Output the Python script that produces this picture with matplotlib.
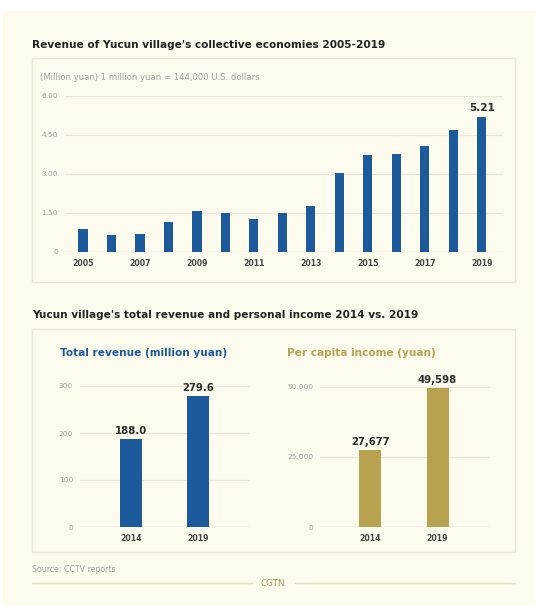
import matplotlib
matplotlib.use("Agg")
import matplotlib.pyplot as plt
from matplotlib.patches import Rectangle
import numpy as np

# data
years = [2005, 2006, 2007, 2008, 2009, 2010, 2011, 2012, 2013, 2014, 2015, 2016, 2017, 2018, 2019]
revenue = [0.90, 0.65, 0.71, 1.15, 1.58, 1.50, 1.28, 1.50, 1.78, 3.03, 3.73, 3.78, 4.09, 4.71, 5.21]
cmp_years = ["2014", "2019"]
total_revenue = [188.0, 279.6]
per_capita = [27677, 49598]

W, H = 535, 606
BLUE = "#1d5a9b"
GOLD = "#b9a24f"
CREAM = "#fdfaee"
EDGE = "#ede8d6"
GRID = "#ebe6d6"
TICK = "#a0a0a0"
DARK = "#2b2b2b"
FONT = "DejaVu Sans"


def rect(x0, y0, x1, y1):
    # pixel box (top-left origin) -> figure fraction
    return [x0 / W, 1 - y1 / H, (x1 - x0) / W, (y1 - y0) / H]


def style(ax, yticks, ylabels):
    ax.set_facecolor("none")
    for s in ax.spines.values():
        s.set_visible(False)
    ax.set_yticks(yticks)
    ax.set_yticklabels(ylabels, fontsize=5.4, color=TICK, family=FONT)
    ax.grid(axis="y", color=GRID, lw=0.8, zorder=0)
    ax.tick_params(length=0, pad=5)
    ax.axhline(0, color="#dcd6c2", lw=0.9, zorder=1)


fig = plt.figure(figsize=(W / 100, H / 100), dpi=100, facecolor="white")
bg = fig.add_axes([0, 0, 1, 1])
bg.set_xlim(0, W); bg.set_ylim(H, 0); bg.axis("off")
bg.add_patch(Rectangle((3, 11), W - 3, H - 11, color=CREAM, zorder=0))
bg.add_patch(Rectangle((32, 58), 483, 224, fc="none", ec=EDGE, lw=1.0))
bg.add_patch(Rectangle((32, 329), 483, 223, fc="none", ec=EDGE, lw=1.0))

bg.text(32, 45, "Revenue of Yucun village's collective economies 2005-2019",
        fontsize=7.6, weight="bold", color="#222222", va="center", family=FONT)
bg.text(40, 78, "(Million yuan) 1 million yuan = 144,000 U.S. dollars",
        fontsize=6.1, color=TICK, va="center", family=FONT)
bg.text(32, 315, "Yucun village's total revenue and personal income 2014 vs. 2019",
        fontsize=7.6, weight="bold", color="#222222", va="center", family=FONT)
bg.text(60, 353, "Total revenue (million yuan)", fontsize=7.6, weight="bold",
        color=BLUE, va="center", family=FONT)
bg.text(287, 353, "Per capita income (yuan)", fontsize=7.6, weight="bold",
        color=GOLD, va="center", family=FONT)
bg.text(32, 569, "Source: CCTV reports", fontsize=5.7, color=TICK, va="center", family=FONT)
bg.plot([32, 252], [583, 583], color="#e6e0c8", lw=1.0)
bg.plot([295, 515], [583, 583], color="#e6e0c8", lw=1.0)
bg.text(273, 583, "CGTN", fontsize=6.3, color="#a39a5a", ha="center", va="center", family=FONT)

# top chart
ax1 = fig.add_axes(rect(65, 96, 503, 252))
x = np.arange(len(years))
ax1.bar(x, revenue, width=0.32, color=BLUE, zorder=2)
ax1.set_xlim(-0.63, 14.74)
ax1.set_ylim(0, 6)
style(ax1, [0, 1.5, 3, 4.5, 6], ["0", "1.50", "3.00", "4.50", "6.00"])
ax1.set_xticks(x[::2])
ax1.set_xticklabels([str(y) for y in years[::2]], fontsize=5.6, color="#444444",
                    weight="bold", family=FONT)
ax1.text(x[-1], revenue[-1] + 0.15, f"{revenue[-1]:.2f}", ha="center", va="bottom",
         fontsize=7.5, weight="bold", color=DARK, family=FONT)

# bottom charts
xb = np.arange(len(cmp_years))
ax2 = fig.add_axes(rect(80, 386, 250, 527))
ax2.bar(xb, total_revenue, width=0.33, color=BLUE, zorder=2)
ax2.set_xlim(-0.76, 1.78)
ax2.set_ylim(0, 300)
style(ax2, [0, 100, 200, 300], ["0", "100", "200", "300"])
ax2.set_xticks(xb)
ax2.set_xticklabels(cmp_years, fontsize=5.6, color="#444444", weight="bold", family=FONT)
for xi, v in zip(xb, total_revenue):
    ax2.text(xi, v + 6, f"{v:.1f}", ha="center", va="bottom", fontsize=7.3,
             weight="bold", color=DARK, family=FONT)

ax3 = fig.add_axes(rect(320, 387, 490, 527))
ax3.bar(xb, per_capita, width=0.33, color=GOLD, zorder=2)
ax3.set_xlim(-0.75, 1.78)
ax3.set_ylim(0, 50000)
style(ax3, [0, 25000, 50000], ["0", "25,000", "50,000"])
ax3.set_xticks(xb)
ax3.set_xticklabels(cmp_years, fontsize=5.6, color="#444444", weight="bold", family=FONT)
for xi, v in zip(xb, per_capita):
    ax3.text(xi, v + 1000, f"{v:,}", ha="center", va="bottom", fontsize=7.3,
             weight="bold", color=DARK, family=FONT)

fig.savefig("out.png", dpi=100, facecolor=fig.get_facecolor())
